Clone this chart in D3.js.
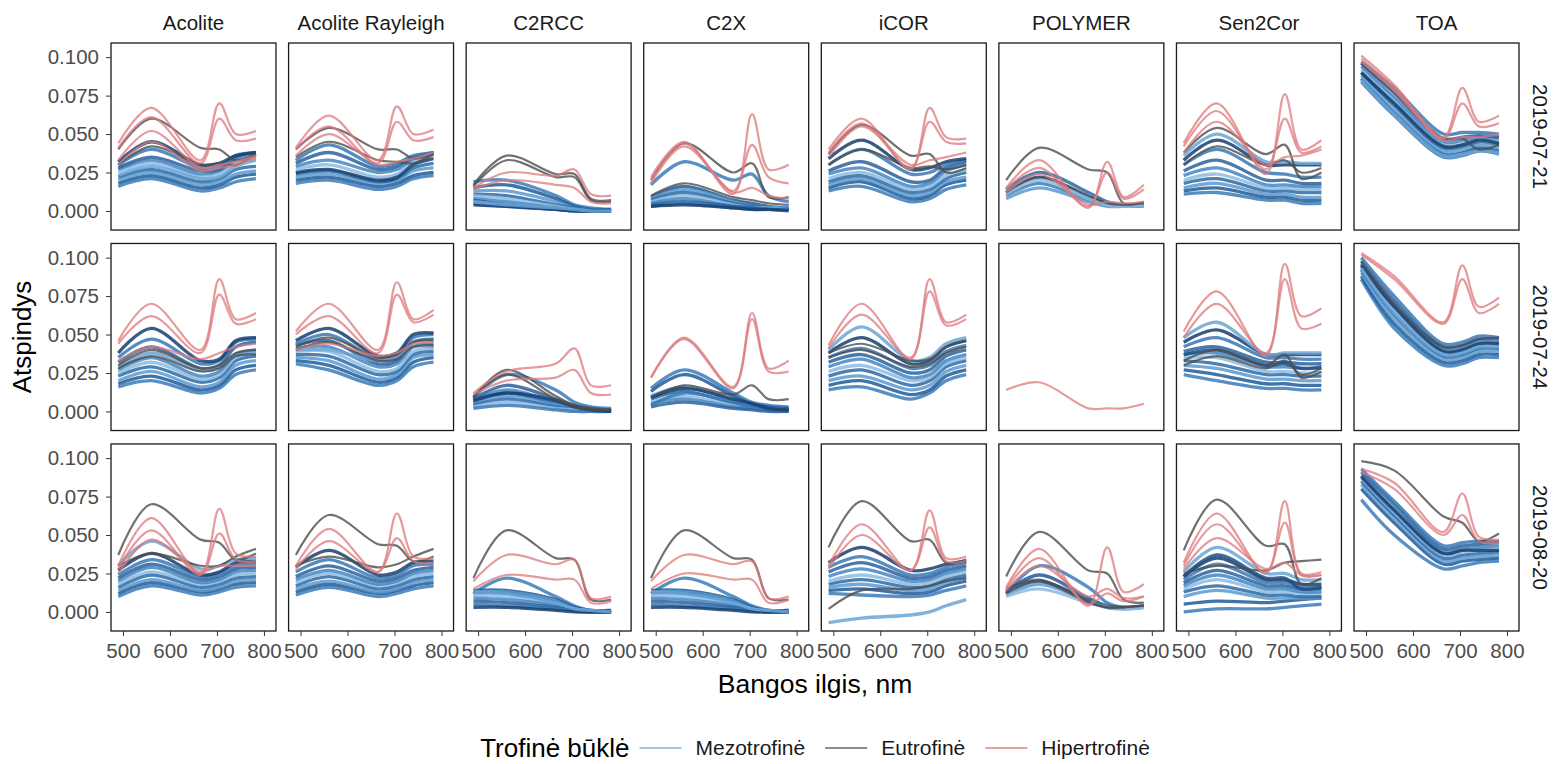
<!DOCTYPE html>
<html>
<head>
<meta charset="utf-8">
<script src="https://cdn.jsdelivr.net/npm/d3@7"></script>
<style>
  body { margin: 0; background: #fff; }
  svg { display: block; font-family: "Liberation Sans", Arial, sans-serif; }
</style>
</head>
<body>
<div id="chart"></div>
<script>
// facets, bands and ticks
const methods = ["Acolite", "Acolite Rayleigh", "C2RCC", "C2X", "iCOR", "POLYMER", "Sen2Cor", "TOA"];
const dates = ["2019-07-21", "2019-07-24", "2019-08-20"];
const bands = [490, 560, 665, 705, 740, 783];   // Sentinel-2 band centres, nm
const groups = ["meso", "eutro", "hyper"];
const groupLabels = ["Mezotrofinė", "Eutrofinė", "Hipertrofinė"];
const yTicks = [0, 0.025, 0.05, 0.075, 0.1];
const xTicks = [500, 600, 700, 800];

// reflectance x 1000 at each band, one row per lake
const acolite_0721 = {
  meso: [[16,21,13,15,19,21],[18,23,15,17,22,24],[20,25,17,19,24,26],[22,27,19,21,27,29],[25,31,22,24,31,34],
         [27,33,24,26,33,36],[28,35,26,27,35,38],[30,40,28,29,36,38],[32,45,30,31,36,38],[23,29,21,22,29,33]],
  eutro: [[40,60,41,40,33,37],[30,42,30,31,30,37]],
  hyper: [[44,67,33,70,50,52],[41,61,31,60,46,47],[33,52,28,30,32,36],[30,45,26,28,30,35]]
};
const acoliteR_0721 = {
  meso: [[18,20,14,16,21,23],[20,22,16,18,23,25],[22,24,18,20,26,28],[24,26,19,21,28,31],[27,30,22,24,32,36],
         [29,33,25,27,34,38],[31,38,27,29,35,38],[33,43,29,31,36,38],[25,27,20,22,30,34]],
  eutro: [[40,54,40,40,34,37],[35,45,33,32,31,37]],
  hyper: [[41,62,33,68,50,53],[40,55,31,58,46,48],[36,50,30,32,34,38]]
};
const c2rcc_0721 = {
  meso: [[19,20,10,4,2,1],[15,17,8,3,1,1],[13,13,6,2,1,0],[11,10,4,2,1,0],[10,8,3,1,0,0],
         [8,6,2,1,0,0],[7,4,1,0,0,0],[5,3,1,0,0,0],[4,3,1,0,0,0],[6,4,2,1,0,0]],
  eutro: [[17,36,24,24,8,7],[16,33,22,22,7,6]],
  hyper: [[15,25,23,27,11,10],[14,20,17,15,6,5]]
};
const c2x_0721 = {
  meso: [[17,32,20,24,10,6],[9,16,7,5,3,2],[8,14,6,3,2,2],[7,12,5,3,2,1],[6,10,4,2,2,1],
         [5,8,3,2,1,1],[4,6,3,2,1,1],[3,5,2,1,1,1],[3,4,2,1,1,0]],
  eutro: [[20,44,25,31,9,9],[10,18,9,7,5,4]],
  hyper: [[22,45,11,63,27,30],[20,44,13,43,22,18],[18,42,12,15,10,8]]
};
const icor_0721 = {
  meso: [[13,16,6,8,14,17],[15,19,8,10,17,20],[17,21,10,12,19,22],[19,23,12,14,21,25],[21,25,14,16,23,27],
         [24,28,16,18,26,30],[26,32,19,20,28,32],[30,40,24,25,30,33],[34,46,27,28,32,34]],
  eutro: [[37,56,36,37,25,28],[30,40,28,29,27,30]],
  hyper: [[40,60,27,67,48,47],[38,57,28,58,45,44],[35,55,30,33,35,38]]
};
const polymer_0721 = {
  meso: [[10,18,7,4,3,4],[12,22,9,5,3,4],[8,15,6,3,3,3],[14,25,12,6,4,5],[11,20,8,4,3,4]],
  eutro: [[20,41,27,25,5,6],[12,22,10,5,4,5]],
  hyper: [[15,33,2,32,9,17],[14,28,3,25,8,14],[12,24,4,6,5,6]]
};
const sen2cor_0721 = {
  meso: [[11,12,7,7,5,5],[13,15,9,9,7,7],[15,18,11,11,9,9],[18,21,13,13,12,12],[20,24,15,15,14,14],
         [23,28,17,17,16,16],[26,33,20,20,18,18],[30,40,25,24,22,22],[33,46,30,30,30,30],[36,50,32,32,31,31]],
  eutro: [[38,54,37,43,21,25],[30,42,30,33,25,28]],
  hyper: [[44,70,24,76,40,46],[42,65,27,60,38,42],[38,58,30,35,36,40]]
};
const toa_0721 = {
  meso: [[84,62,35,36,39,37],[86,64,37,38,41,39],[88,67,39,40,43,41],[90,69,41,42,45,43],[92,72,43,44,46,45],
         [94,74,45,46,48,47],[96,77,47,48,49,48],[97,80,50,51,51,50],[90,70,42,43,46,44],[85,63,36,37,39,38]],
  eutro: [[96,77,47,47,40,43]],
  hyper: [[101,82,48,80,58,62],[99,80,47,70,55,57],[97,78,46,48,48,50]]
};

const acolite_0724 = {
  meso: [[16,20,12,15,24,27],[18,23,14,17,27,30],[20,26,16,19,30,33],[23,29,19,22,33,36],[25,32,21,24,35,38],
         [27,35,23,26,37,40],[32,42,28,30,42,45],[35,47,31,33,45,47],[38,54,33,34,46,48],[29,38,27,29,36,38]],
  eutro: [[30,40,28,30,38,40],[28,36,26,28,36,37]],
  hyper: [[46,70,40,86,60,64],[44,62,38,76,57,60],[33,42,34,38,42,44]]
};
const acoliteR_0724 = {
  meso: [[31,27,17,20,29,32],[33,30,19,22,32,35],[35,33,21,24,35,37],[37,36,24,26,37,39],[39,39,26,28,39,41],
         [41,42,29,31,42,44],[43,46,31,33,45,47],[44,50,34,36,48,50],[46,54,36,38,50,51],[40,40,33,35,42,42]],
  eutro: [[40,45,33,34,42,43],[42,48,35,37,45,46]],
  hyper: [[52,70,40,84,60,66],[50,62,38,76,58,63],[40,44,36,38,44,45]]
};
const c2rcc_0724 = {
  meso: [[9,24,14,6,3,2],[6,12,5,2,1,1],[5,10,4,2,1,0],[4,8,3,1,0,0],[3,6,2,1,0,0],
         [7,14,6,3,1,1],[8,17,8,4,2,1],[2,4,1,0,0,0],[7,12,7,3,1,0]],
  eutro: [[9,27,10,4,2,1],[10,24,8,3,1,1]],
  hyper: [[12,26,31,41,17,17],[11,20,22,27,12,11]]
};
const c2x_0724 = {
  meso: [[15,27,12,6,4,3],[13,24,10,5,3,2],[10,16,7,3,2,1],[8,13,5,3,2,1],[6,10,4,2,1,1],
         [5,8,3,2,1,0],[3,6,2,1,0,0],[4,12,6,3,2,1],[9,15,8,5,2,1]],
  eutro: [[9,17,11,17,8,8]],
  hyper: [[22,48,16,64,28,33],[22,47,15,60,26,26]]
};
const icor_0724 = {
  meso: [[14,16,8,12,20,24],[17,20,11,14,23,27],[20,23,14,17,26,30],[23,27,17,20,29,33],[26,30,20,22,31,35],
         [29,34,22,24,33,37],[32,37,25,27,36,40],[35,41,28,30,39,43],[38,48,31,33,42,46],[40,55,33,35,44,48]],
  eutro: [[38,44,33,34,42,46],[35,40,29,31,38,42]],
  hyper: [[43,70,34,86,58,63],[41,63,35,78,56,60]]
};
const polymer_0724 = {
  meso: [],
  eutro: [],
  hyper: [[14,19,2,2,2,5]]
};
const sen2cor_0724 = {
  meso: [[24,20,15,15,14,14],[27,24,18,18,17,17],[30,28,21,21,20,20],[33,31,24,24,23,23],[35,35,26,26,25,25],
         [37,38,29,29,28,28],[39,42,32,32,31,31],[42,48,35,35,34,34],[45,53,37,37,37,37],[48,58,37,38,38,38],
         [37,40,30,31,28,29]],
  eutro: [[33,40,30,37,22,26],[30,36,28,33,24,28]],
  hyper: [[52,78,36,96,62,67],[48,70,38,86,54,57]]
};
const toa_0724 = {
  meso: [[86,54,30,31,35,35],[88,57,32,33,37,37],[90,60,34,35,39,39],[92,63,36,37,41,41],[94,66,38,39,43,43],
         [96,69,40,41,45,45],[98,72,42,43,47,47],[100,75,44,45,49,48],[95,68,39,40,44,44],[93,64,37,38,42,42]],
  eutro: [[97,70,42,43,47,48]],
  hyper: [[103,88,58,95,68,74],[102,86,57,86,64,70]]
};

const acolite_0820 = {
  meso: [[10,17,11,13,16,17],[12,19,13,15,18,19],[14,21,14,16,20,21],[16,24,16,18,22,23],[18,26,18,20,24,25],
         [20,29,19,21,26,27],[22,31,21,23,28,29],[24,34,23,25,30,31],[27,38,24,26,32,33],[30,46,28,30,34,35]],
  eutro: [[37,70,47,45,34,38],[30,38,30,30,36,41]],
  hyper: [[30,61,25,67,38,36],[28,53,24,51,34,33],[25,47,26,30,30,30]]
};
const acoliteR_0820 = {
  meso: [[11,16,10,12,15,17],[13,18,12,14,17,19],[15,20,13,15,19,21],[17,23,15,17,21,23],[19,25,17,19,23,25],
         [21,27,18,20,25,27],[23,30,20,22,27,29],[26,34,22,24,30,31],[29,40,24,26,32,33]],
  eutro: [[37,63,44,43,33,36],[30,36,29,31,36,41]],
  hyper: [[30,54,26,64,36,35],[28,46,26,48,33,32]]
};
const c2rcc_0820 = {
  meso: [[12,22,10,4,1,1],[14,14,8,3,1,1],[13,13,7,2,1,0],[12,12,6,2,0,0],[11,10,5,2,0,0],
         [9,8,4,1,0,0],[7,6,3,1,0,0],[5,4,2,1,0,0],[3,3,1,0,0,0],[13,12,6,2,1,0]],
  eutro: [[22,53,35,34,8,8]],
  hyper: [[20,37,31,34,9,10],[15,24,21,21,6,7]]
};
const c2x_0820 = {
  meso: [[12,22,10,4,1,1],[14,14,8,3,1,1],[13,13,7,2,1,0],[12,12,6,2,0,0],[11,10,5,2,0,0],
         [9,8,4,1,0,0],[7,6,3,1,0,0],[5,4,2,1,0,0],[3,3,1,0,0,0],[13,12,6,2,1,0]],
  eutro: [[22,53,35,34,9,8]],
  hyper: [[20,37,31,33,9,10],[15,25,21,21,6,8]]
};
const icor_0820 = {
  meso: [[12,11,10,11,14,17],[14,15,12,13,17,20],[16,18,14,15,19,22],[18,21,16,17,21,24],[20,24,18,19,23,26],
         [23,28,20,21,25,28],[26,32,22,23,27,30],[29,36,24,25,29,32],[32,42,27,28,31,33],[-7,-4,-2,0,4,8]],
  eutro: [[42,72,46,47,32,34],[2,14,15,17,20,22]],
  hyper: [[30,57,27,66,35,36],[28,50,27,55,33,33]]
};
const polymer_0820 = {
  meso: [[12,30,16,6,3,3],[13,24,9,4,3,4],[11,18,7,3,2,3],[14,20,8,3,3,4],[10,15,6,3,2,3]],
  eutro: [[23,52,27,25,8,6],[12,20,6,3,3,4],[15,21,7,3,3,4]],
  hyper: [[16,41,4,42,13,18],[15,35,5,12,7,10],[14,30,10,15,9,10]]
};
const sen2cor_0820 = {
  meso: [[0,2,2,3,4,5],[5,7,6,7,8,9],[10,14,9,9,9,9],[13,17,11,11,10,10],[15,21,13,13,12,12],
         [17,24,15,15,13,13],[19,27,17,17,15,15],[21,31,19,19,16,16],[23,35,21,21,18,18],[26,42,25,25,21,21],
         [23,37,22,22,15,16]],
  eutro: [[40,73,43,44,18,22],[25,30,27,32,33,34]],
  hyper: [[32,64,25,72,25,26],[30,57,26,58,24,24],[28,48,28,32,24,24]]
};
const toa_0820 = {
  meso: [[73,50,28,30,32,33],[80,58,31,33,34,35],[83,61,33,35,36,37],[85,63,35,37,38,39],[87,65,37,39,40,41],
         [89,67,39,41,42,43],[91,70,41,43,44,45],[93,72,43,45,46,46],[88,66,38,40,40,40]],
  eutro: [[98,92,62,58,46,51]],
  hyper: [[93,84,52,77,49,47],[91,80,50,63,46,45]]
};

// facet grid: methods (columns) x dates (rows)
const panelData = [
  [acolite_0721, acolite_0724, acolite_0820],
  [acoliteR_0721, acoliteR_0724, acoliteR_0820],
  [c2rcc_0721, c2rcc_0724, c2rcc_0820],
  [c2x_0721, c2x_0724, c2x_0820],
  [icor_0721, icor_0724, icor_0820],
  [polymer_0721, polymer_0724, polymer_0820],
  [sen2cor_0721, sen2cor_0724, sen2cor_0820],
  [toa_0721, toa_0724, toa_0820]
];

const width = 1556, height = 764;

const svg = d3.select("#chart").append("svg")
    .attr("width", width)
    .attr("height", height);

const col = d3.scaleBand().domain(methods).range([111, 1519]).paddingInner(0.071);
const row = d3.scaleBand().domain(dates).range([43, 631]).paddingInner(0.067);
const pw = col.bandwidth(), ph = row.bandwidth();

const x = d3.scaleLinear().domain([474.5, 825.6]).range([0, pw]);
const y = d3.scaleLinear().domain([-0.0124, 0.1092]).range([ph, 0]);

const line = d3.line()
    .x((d, i) => x(bands[i]))
    .y(d => y(d / 1000))
    .curve(d3.curveCatmullRom.alpha(0.5));

const blues = ["#3b7dbb", "#1f5b97", "#5c9ad0", "#2c6aa6", "#8dbbe0", "#4586c2",
               "#2a629c", "#3a78b5", "#17406e", "#6aa5d6", "#1d4f85"];
const style = {
  meso:  {w: 3.3, op: 0.85},
  eutro: {w: 2.2, op: 0.8, c: "#4d4d4d"},
  hyper: {w: 2.2, op: 0.75, c: "#dc7a7c"}
};

methods.forEach((m, ci) => {
  dates.forEach((dt, ri) => {
    const data = panelData[ci][ri];
    const g = svg.append("g")
        .attr("transform", `translate(${col(m)},${row(dt)})`);

    const clipId = `clip-${ci}-${ri}`;
    g.append("clipPath").attr("id", clipId)
      .append("rect").attr("width", pw).attr("height", ph);

    const lines = g.append("g").attr("clip-path", `url(#${clipId})`);
    groups.forEach(grp => {
      lines.selectAll(`path.${grp}`)
        .data(data[grp])
        .join("path")
          .attr("class", grp)
          .attr("d", line)
          .attr("fill", "none")
          .attr("stroke", (d, i) => grp === "meso" ? blues[i % blues.length] : style[grp].c)
          .attr("stroke-width", style[grp].w)
          .attr("stroke-opacity", style[grp].op)
          .attr("stroke-linejoin", "round");
    });

    g.append("rect")
      .attr("width", pw).attr("height", ph)
      .attr("fill", "none")
      .attr("stroke", "#1a1a1a")
      .attr("stroke-width", 1.3);

    if (ci === 0) {
      const ax = g.append("g")
        .call(d3.axisLeft(y).tickValues(yTicks).tickFormat(d3.format(".3f")).tickSize(5).tickPadding(7));
      ax.select(".domain").remove();
      ax.selectAll("line").attr("stroke", "#333");
      ax.selectAll("text").attr("fill", "#4d4d4d").style("font-size", "20.5px");
    }
    if (ri === dates.length - 1) {
      const ax = g.append("g")
        .attr("transform", `translate(0,${ph})`)
        .call(d3.axisBottom(x).tickValues(xTicks).tickSize(5).tickPadding(7));
      ax.select(".domain").remove();
      ax.selectAll("line").attr("stroke", "#333");
      ax.selectAll("text").attr("fill", "#4d4d4d").style("font-size", "20.5px");
    }
  });
});

// strip labels
svg.append("g").selectAll("text")
  .data(methods)
  .join("text")
    .attr("x", d => col(d) + pw / 2)
    .attr("y", 30)
    .attr("text-anchor", "middle")
    .attr("fill", "#1a1a1a")
    .style("font-size", "20.5px")
    .text(d => d);

svg.append("g").selectAll("text")
  .data(dates)
  .join("text")
    .attr("transform", d => `translate(1533,${row(d) + ph / 2}) rotate(90)`)
    .attr("text-anchor", "middle")
    .attr("fill", "#1a1a1a")
    .style("font-size", "20.5px")
    .text(d => d);

// axis titles
const midX = (111 + 1519) / 2;
svg.append("text")
  .attr("transform", `translate(31,${(43 + 631) / 2}) rotate(-90)`)
  .attr("text-anchor", "middle")
  .style("font-size", "26px")
  .text("Atspindys");

svg.append("text")
  .attr("x", midX)
  .attr("y", 693)
  .attr("text-anchor", "middle")
  .style("font-size", "26.5px")
  .text("Bangos ilgis, nm");

// legend, centred under the panels
const legendColors = ["#a9c6df", "#8a8a8a", "#e4a3a4"];
const legend = svg.append("g");
const title = legend.append("text")
  .attr("y", 757)
  .style("font-size", "26px")
  .text("Trofinė būklė");
let cx = title.node().getComputedTextLength() + 10;
groupLabels.forEach((lab, i) => {
  legend.append("line")
    .attr("x1", cx).attr("x2", cx + 42)
    .attr("y1", 748).attr("y2", 748)
    .attr("stroke", legendColors[i])
    .attr("stroke-width", 2.2);
  const t = legend.append("text")
    .attr("x", cx + 56).attr("y", 755)
    .attr("fill", "#1a1a1a")
    .style("font-size", "21px")
    .text(lab);
  cx += 56 + t.node().getComputedTextLength() + 20;
});
const legendW = cx - 20;
legend.attr("transform", `translate(${midX - legendW / 2},0)`);
</script>
</body>
</html>
